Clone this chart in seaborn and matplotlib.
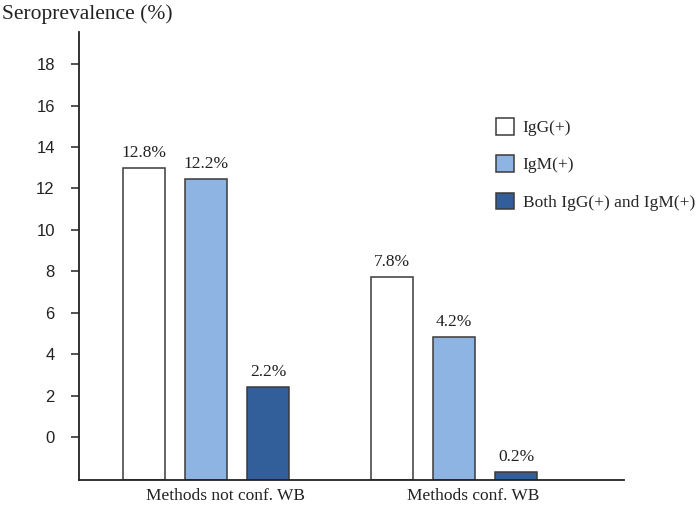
import numpy as np
import pandas as pd
import seaborn as sns
import matplotlib.pyplot as plt
from matplotlib.transforms import ScaledTranslation

# values (in the chart's tick units) and the printed labels
methods = ["Methods not conf. WB", "Methods conf. WB"]
groups = ["IgG(+)", "IgM(+)", "Both IgG(+) and IgM(+)"]
bar_tops = {
    "IgG(+)": [12.98, 7.72],
    "IgM(+)": [12.45, 4.83],
    "Both IgG(+) and IgM(+)": [2.41, -1.69],
}
bar_text = {
    "IgG(+)": ["12.8%", "7.8%"],
    "IgM(+)": ["12.2%", "4.2%"],
    "Both IgG(+) and IgM(+)": ["2.2%", "0.2%"],
}
tick_values = [0, 2, 4, 6, 8, 10, 12, 14, 16, 18]
colors = ["#ffffff", "#8db4e2", "#325f99"]

# the bars of the original rise from the axis floor, which sits below the "0" tick
floor = -2.07
y_top = 19.55

rows = []
for g in groups:
    for m, v in zip(methods, bar_tops[g]):
        rows.append({"method": m, "group": g, "height": v - floor})
df = pd.DataFrame(rows)

sns.set_theme(style="white")
plt.rcParams["font.family"] = ["Liberation Serif", "DejaVu Serif"]

fig = plt.figure(figsize=(7, 5.08), dpi=100)
ax = fig.add_axes([0.113, 0.0551, 0.778, 0.882])

sns.barplot(data=df, x="method", y="height", hue="group", hue_order=groups,
            order=methods, palette=colors, saturation=1, width=0.75, gap=0.32,
            edgecolor="#3a3a3a", linewidth=1.1, errorbar=None, ax=ax)

for cont, g in zip(ax.containers, groups):
    ax.bar_label(cont, labels=bar_text[g], padding=5, fontsize=12.5, color="#222222")

ax.set_xlim(-0.513, 1.684)
ax.set_ylim(0, y_top - floor)
ax.set_yticks([t - floor for t in tick_values])
ax.set_yticklabels([str(t) for t in tick_values], fontfamily="Liberation Sans",
                   fontsize=12, color="#222222")
ax.tick_params(axis="y", left=True, length=6, width=1.1, color="#222222", pad=11.5)
ax.tick_params(axis="x", bottom=False, length=0, labelsize=12.5,
               labelcolor="#222222", pad=6)
offset = ScaledTranslation(0.19, 0, fig.dpi_scale_trans)
for lab in ax.get_xticklabels():
    lab.set_transform(lab.get_transform() + offset)

ax.set_xlabel("")
ax.set_ylabel("")
for side in ["top", "right"]:
    ax.spines[side].set_visible(False)
for side in ["left", "bottom"]:
    ax.spines[side].set_color("#222222")
    ax.spines[side].set_linewidth(1.3)

fig.text(0.003, 0.972, "Seroprevalence (%)", fontsize=15.5, va="center", ha="left",
         color="#222222")

handles, labels = ax.get_legend_handles_labels()
ax.legend(handles, labels, loc="upper left", bbox_to_anchor=(0.6956, 0.784),
          bbox_transform=fig.transFigure, frameon=False, fontsize=12.5,
          handlelength=1.05, handleheight=1.05, labelspacing=1.1,
          handletextpad=0.5, borderpad=0)

fig.savefig("out.png", dpi=100)
